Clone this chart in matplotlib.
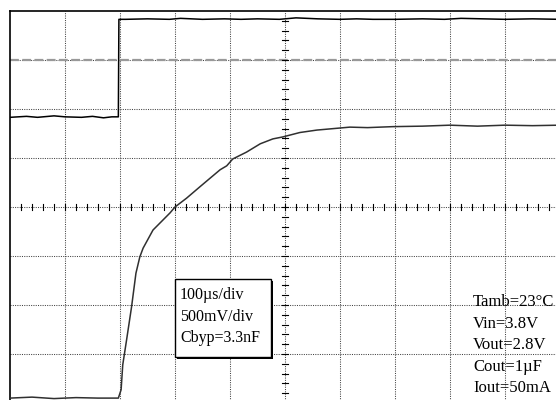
import matplotlib.pyplot as plt
import numpy as np
from matplotlib.patches import Rectangle

# 画面の目盛り単位 (x: div, y: div) で読んだ波形
in_t = [0.0, 0.3, 0.5, 0.8, 1.0, 1.3, 1.5, 1.7, 1.85, 1.97,
        1.98, 2.1, 2.5, 2.9, 3.1, 3.5, 3.9, 4.2, 4.5, 4.9,
        5.2, 5.6, 6.0, 6.3, 6.6, 7.0, 7.5, 7.9, 8.2, 8.6,
        9.0, 9.5, 10.0]
in_v = [5.83, 5.85, 5.83, 5.86, 5.84, 5.83, 5.85, 5.82, 5.84, 5.84,
        7.83, 7.83, 7.84, 7.83, 7.85, 7.83, 7.84, 7.83, 7.84, 7.83,
        7.86, 7.84, 7.83, 7.84, 7.83, 7.83, 7.84, 7.83, 7.85, 7.84,
        7.83, 7.84, 7.83]

out_t = [0.0, 0.4, 0.8, 1.2, 1.6, 1.97,
         2.02, 2.05, 2.12, 2.21, 2.29, 2.36, 2.42, 2.6, 2.91, 3.0,
         3.21, 3.45, 3.64, 3.82, 3.94, 4.05, 4.3, 4.55, 4.78, 4.96,
         5.27, 5.58, 5.98, 6.18, 6.5, 6.96, 7.5, 8.0, 8.5, 9.0,
         9.5, 10.0]
out_v = [0.10, 0.12, 0.09, 0.11, 0.10, 0.10,
         0.27, 0.78, 1.29, 1.96, 2.65, 2.98, 3.16, 3.53, 3.88, 4.00,
         4.18, 4.41, 4.59, 4.76, 4.84, 4.98, 5.12, 5.29, 5.39, 5.43,
         5.52, 5.57, 5.61, 5.63, 5.62, 5.64, 5.65, 5.67, 5.65, 5.67,
         5.66, 5.67]

box_lines = ['100µs/div', '500mV/div', 'Cbyp=3.3nF']
cond_lines = ['Tamb=23°C', 'Vin=3.8V', 'Vout=2.8V', 'Cout=1µF', 'Iout=50mA']

fig = plt.figure(figsize=(5.56, 4), dpi=100)
ax = fig.add_axes([10 / 556, -3 / 400, 550 / 556, 392 / 400])
ax.set_xlim(0, 10)
ax.set_ylim(0, 8)
ax.set_xticks([])
ax.set_yticks([])
for s in ['bottom', 'right']:
    ax.spines[s].set_visible(False)
for s in ['top', 'left']:
    ax.spines[s].set_linewidth(1.2)

# グリッド (点線)
for x in range(1, 10):
    ax.axvline(x, color='#444444', lw=0.75, ls=(0, (1, 1.2)), zorder=1)
for y in range(1, 8):
    ax.axhline(y, color='#444444', lw=0.75, ls=(0, (1, 1.2)), zorder=1)
# 基準線マーカー
ax.axhline(7, color='#999999', lw=1.6, ls=(0, (4, 1.5)), zorder=1)

# 中央軸の小目盛り
for x in np.arange(0.2, 10, 0.2):
    ax.plot([x, x], [3.94, 4.06], color='black', lw=0.8, zorder=2)
for y in np.arange(0.2, 8, 0.2):
    ax.plot([4.95, 5.05], [y, y], color='black', lw=0.8, zorder=2)

# 波形
ax.plot(in_t, in_v, color='black', lw=1.1, zorder=3)
ax.plot(out_t, out_v, color='#303030', lw=1.1, zorder=3)

# 設定値の箱
ax.add_patch(Rectangle((3.04, 0.90), 1.75, 1.59, facecolor='black',
                       edgecolor='none', zorder=4))
ax.add_patch(Rectangle((3.0, 0.94), 1.75, 1.59, facecolor='white',
                       edgecolor='black', lw=1, zorder=5))
for i, s in enumerate(box_lines):
    ax.text(3.09, 2.20 - i * 0.435, s, family='Liberation Serif', size=11.5,
            va='center', ha='left', zorder=6)

# 測定条件
for i, s in enumerate(cond_lines):
    ax.text(8.42, 2.06 - i * 0.44, s, family='Liberation Serif', size=12,
            va='center', ha='left', zorder=6)

fig.savefig('out.png', dpi=100)
